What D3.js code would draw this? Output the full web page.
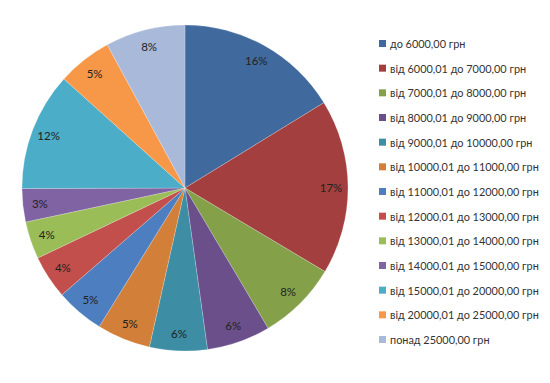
<!DOCTYPE html>
<html>
<head>
<meta charset="utf-8">
<script src="https://cdn.jsdelivr.net/npm/d3@7"></script>
<style>
  html, body { margin: 0; padding: 0; background: #fff; }
  svg { display: block; }
</style>
</head>
<body>
<svg id="chart" width="550" height="383"></svg>
<script>
const categories = [
  "до 6000,00 грн",
  "від 6000,01 до 7000,00 грн",
  "від 7000,01 до 8000,00 грн",
  "від 8000,01 до 9000,00 грн",
  "від 9000,01 до 10000,00 грн",
  "від 10000,01 до 11000,00 грн",
  "від 11000,01 до 12000,00 грн",
  "від 12000,01 до 13000,00 грн",
  "від 13000,01 до 14000,00 грн",
  "від 14000,01 до 15000,00 грн",
  "від 15000,01 до 20000,00 грн",
  "від 20000,01 до 25000,00 грн",
  "понад 25000,00 грн"
];
const values = [16.2, 17.3, 7.9, 6.3, 5.7, 5.3, 4.8, 4.3, 3.7, 3.3, 11.7, 5.4, 7.9];
const colors = ["#40699e", "#a3403f", "#84a14a", "#6a4f8b", "#3d8da5", "#d17f39",
                "#4d7fc0", "#c24f4c", "#9bbd57", "#8063a3", "#4badc7", "#f79748", "#a9b9d9"];

const svg = d3.select("#chart");
const cx = 185, cy = 188, R = 163, labelR = 146;
const total = d3.sum(values);
const data = categories.map((c, i) => ({ cat: c, value: values[i], color: colors[i] }));

const pie = d3.pie().value(d => d.value).sort(null);
const arcs = pie(data);
const arc = d3.arc().innerRadius(0).outerRadius(R);
const labelArc = d3.arc().innerRadius(labelR).outerRadius(labelR);

const g = svg.append("g").attr("transform", `translate(${cx},${cy})`);
g.selectAll("path").data(arcs).join("path")
  .attr("d", arc)
  .attr("fill", d => d.data.color)
  .attr("stroke", "rgba(255,255,255,0.35)")
  .attr("stroke-width", 0.6);

g.selectAll("text").data(arcs).join("text")
  .attr("transform", d => {
    const [x, y] = labelArc.centroid(d);
    return `translate(${x},${y})`;
  })
  .attr("text-anchor", "middle")
  .attr("dominant-baseline", "central")
  .attr("font-family", "Lato, 'Open Sans', sans-serif")
  .attr("font-size", 11.5)
  .attr("fill", "#222")
  .text(d => Math.round(d.data.value / total * 100) + "%");

const legend = svg.append("g");
const ly = d3.scalePoint().domain(categories).range([43.5, 339.5]);
const items = legend.selectAll("g").data(data).join("g")
  .attr("transform", d => `translate(379,${ly(d.cat)})`);
items.append("rect").attr("x", 0).attr("y", -3.5).attr("width", 7).attr("height", 7)
  .attr("fill", d => d.color);
items.append("text").attr("x", 11).attr("y", 0)
  .attr("dominant-baseline", "central")
  .attr("font-family", "Lato, 'Open Sans', sans-serif")
  .attr("font-size", 10.9)
  .attr("fill", "#333")
  .text(d => d.cat);
</script>
</body>
</html>
